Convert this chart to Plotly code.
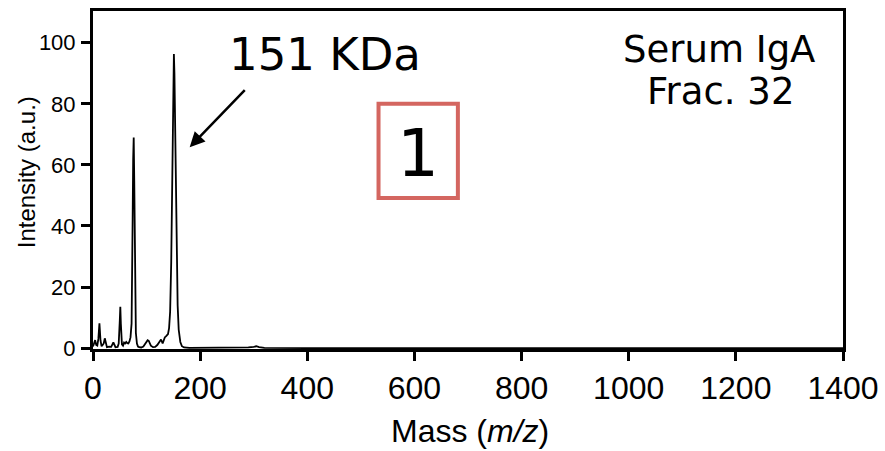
import plotly.graph_objects as go

# Spectrum trace (mass in kDa-ish m/z units, intensity in a.u.)
mass = [0, 2, 4, 6, 8, 10, 12, 14, 16, 18, 20, 22, 24, 26, 30, 34, 38, 40, 42, 46,
        48, 50, 51, 52, 54, 56, 58, 60, 62, 64, 66, 68, 70, 72, 73, 74, 75, 76, 77, 78,
        79, 80, 82, 84, 86, 90, 94, 98, 102, 104, 108, 112, 116, 120, 124, 127, 130, 134,
        137, 140, 142, 144, 146, 148, 149, 150, 151, 152, 153, 154, 156, 158, 160, 163,
        166, 170, 180, 200, 250, 290, 300, 305, 310, 320, 400, 600, 800, 1000, 1200, 1400]
intensity = [0.5, 1.5, 2.6, 1.0, 0.8, 3.0, 8.1, 2.5, 0.6, 1.0, 1.5, 3.2, 1.0, 0.3, 0.5, 0.4, 1.9, 1.0, 0.3, 0.4,
             1.5, 9.0, 13.5, 8.0, 1.2, 0.8, 1.8, 1.5, 2.0, 1.6, 1.5, 2.2, 3.5, 8.0, 20.0, 42.0, 62.0, 69.0, 55.0, 30.0,
             12.0, 5.0, 1.5, 0.5, 0.3, 0.2, 0.5, 1.8, 2.6, 2.4, 0.8, 0.3, 0.4, 1.0, 2.2, 2.8, 1.5, 3.5,
             4.0, 4.6, 6.5, 12.0, 28.0, 55.0, 73.0, 88.0, 96.3, 90.0, 75.0, 56.0, 30.0, 14.0, 6.0, 2.0,
             0.6, 0.2, 0.1, 0.1, 0.1, 0.2, 0.4, 0.6, 0.3, 0.1, 0.0, 0.0, 0.0, 0.0, 0.0, 0.0]

x_ticks = [0, 200, 400, 600, 800, 1000, 1200, 1400]
y_ticks = [0, 20, 40, 60, 80, 100]

peak_label = "151 KDa"
peak_mass = 151
sample_lines = ["Serum IgA", "Frac. 32"]
panel_number = "1"

REG = "Liberation Sans, Arial, sans-serif"
VERD = "DejaVu Sans, Verdana, sans-serif"

fig = go.Figure()
fig.add_trace(go.Scatter(x=mass, y=intensity, mode="lines",
                         line=dict(color="black", width=1.8), hoverinfo="skip"))

axis_common = dict(showline=True, linecolor="black", linewidth=3, mirror=True,
                   ticks="outside", ticklen=9, tickwidth=2.5, tickcolor="black",
                   showgrid=False, zeroline=False, automargin=False)

fig.update_layout(
    width=885, height=451,
    margin=dict(l=93, r=42, t=11, b=102),
    paper_bgcolor="white", plot_bgcolor="white",
    showlegend=False,
    xaxis=dict(range=[0, 1400], tickvals=x_ticks,
               tickfont=dict(family=REG, size=32, color="black"), **axis_common),
    yaxis=dict(range=[-0.3, 110.4], tickvals=y_ticks, ticklabelstandoff=1,
               tickfont=dict(family=REG, size=22, color="black"), **axis_common),
)

# axis titles
fig.add_annotation(xref="paper", yref="paper", x=0.5025, y=-0.2426,
                   text="Mass (<i>m/z</i>)", showarrow=False,
                   font=dict(family=REG, size=32, color="black"),
                   xanchor="center", yanchor="middle")
fig.add_annotation(xref="paper", yref="paper", x=-0.0884, y=0.522,
                   text="Intensity (a.u.)", showarrow=False, textangle=-90,
                   font=dict(family=REG, size=24, color="black"),
                   xanchor="center", yanchor="middle")

# arrow to peak
fig.add_annotation(x=180.5, y=65.8, xref="x", yref="y", ax=286, ay=85,
                   axref="x", ayref="y", text="", showarrow=True,
                   arrowhead=2, arrowsize=1.2, arrowwidth=2.5, arrowcolor="black",
                   standoff=0, startstandoff=0)
fig.add_annotation(xref="paper", yref="paper", x=0.309, y=0.870,
                   text=peak_label, showarrow=False,
                   font=dict(family=VERD, size=45, color="black"),
                   xanchor="center", yanchor="middle")

# sample label
fig.add_annotation(xref="paper", yref="paper", x=0.834, y=0.885,
                   text=sample_lines[0], showarrow=False,
                   font=dict(family=VERD, size=37, color="black"),
                   xanchor="center", yanchor="middle")
fig.add_annotation(xref="paper", yref="paper", x=0.836, y=0.763,
                   text=sample_lines[1], showarrow=False,
                   font=dict(family=VERD, size=37, color="black"),
                   xanchor="center", yanchor="middle")

# boxed panel number
fig.add_shape(type="rect", xref="paper", yref="paper",
              x0=0.3807, x1=0.4865, y0=0.4467, y1=0.7257,
              line=dict(color="rgb(212,102,96)", width=4), fillcolor="rgba(0,0,0,0)")
fig.add_annotation(xref="paper", yref="paper", x=0.4331, y=0.577,
                   text=panel_number, showarrow=False,
                   font=dict(family=VERD, size=66, color="black"),
                   xanchor="center", yanchor="middle")

fig.write_html("out.html")
